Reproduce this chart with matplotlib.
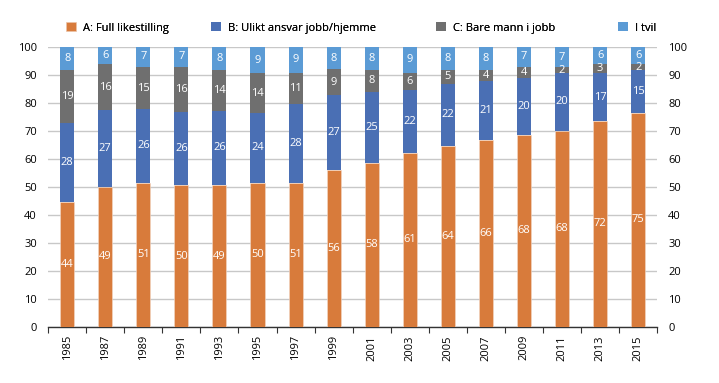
import numpy as np
import matplotlib
matplotlib.use("Agg")
import matplotlib.pyplot as plt

plt.rcParams['font.family'] = ['Open Sans', 'DejaVu Sans']

years = ['1985', '1987', '1989', '1991', '1993', '1995', '1997', '1999',
         '2001', '2003', '2005', '2007', '2009', '2011', '2013', '2015']
full_likestilling = [44, 49, 51, 50, 49, 50, 51, 56, 58, 61, 64, 66, 68, 68, 72, 75]
ulikt_ansvar = [28, 27, 26, 26, 26, 24, 28, 27, 25, 22, 22, 21, 20, 20, 17, 15]
bare_mann = [19, 16, 15, 16, 14, 14, 11, 9, 8, 6, 5, 4, 4, 2, 3, 2]
i_tvil = [8, 6, 7, 7, 8, 9, 9, 8, 8, 9, 8, 8, 7, 7, 6, 6]

series = [full_likestilling, ulikt_ansvar, bare_mann, i_tvil]
names = ['A: Full likestilling', 'B: Ulikt ansvar jobb/hjemme', 'C: Bare mann i jobb', 'I tvil']
colors = ['#D87B3B', '#4A6FB4', '#6F6F6F', '#5B9BD5']

raw = np.array(series, dtype=float)
share = raw / raw.sum(axis=0) * 100  # stolpene er skalert til 100 %

fig = plt.figure(figsize=(7.19, 3.83), dpi=100)
ax = fig.add_axes([0.067, 0.147, 0.847, 0.73])

x = np.arange(len(years))
bottom = np.zeros(len(years))
handles = []
for i in range(len(series)):
    b = ax.bar(x, share[i], 0.37, bottom=bottom, color=colors[i],
               edgecolor='#f3d9c8' if i == 0 else 'none', linewidth=0.4,
               label=names[i], zorder=3)
    handles.append(b)
    for j in range(len(years)):
        ax.text(x[j], bottom[j] + share[i][j] / 2, str(series[i][j]),
                ha='center', va='center', color='white', fontsize=8, zorder=4)
    bottom += share[i]

ax.set_xlim(-0.5, len(years) - 0.5)
ax.set_ylim(0, 100)
ax.set_yticks(range(0, 101, 10))
ax.set_xticks(x)
ax.set_xticklabels(years, rotation=90, fontsize=8)
ax.set_xticks(np.arange(-0.5, len(years), 1), minor=True)
ax.tick_params(axis='x', which='major', length=0, pad=6)
ax.tick_params(axis='x', which='minor', length=4, width=0.8, color='#333333')
ax.tick_params(axis='y', length=0, labelsize=8, pad=8)
ax.grid(axis='y', color='#c8c8c8', linewidth=1, zorder=0)

for s in ['top', 'left', 'right']:
    ax.spines[s].set_visible(False)
ax.spines['bottom'].set_color('#333333')
ax.spines['bottom'].set_linewidth(1)

ax2 = ax.twinx()
ax2.set_ylim(0, 100)
ax2.set_yticks(range(0, 101, 10))
ax2.tick_params(axis='y', length=0, labelsize=8, pad=8)
for s in ['top', 'left', 'right', 'bottom']:
    ax2.spines[s].set_visible(False)

# legendene plassert hver for seg, som i originalen
legend_x = [0.092, 0.294, 0.607, 0.860]
for h, n, lx in zip(handles, names, legend_x):
    leg = fig.legend(handles=[h], labels=[n], loc='center left',
                     bbox_to_anchor=(lx, 0.927), frameon=False, fontsize=8,
                     handlelength=0.9, handleheight=0.9, handletextpad=0.6,
                     borderpad=0, borderaxespad=0)
    fig.add_artist(leg)

fig.savefig('out.png', dpi=100)
